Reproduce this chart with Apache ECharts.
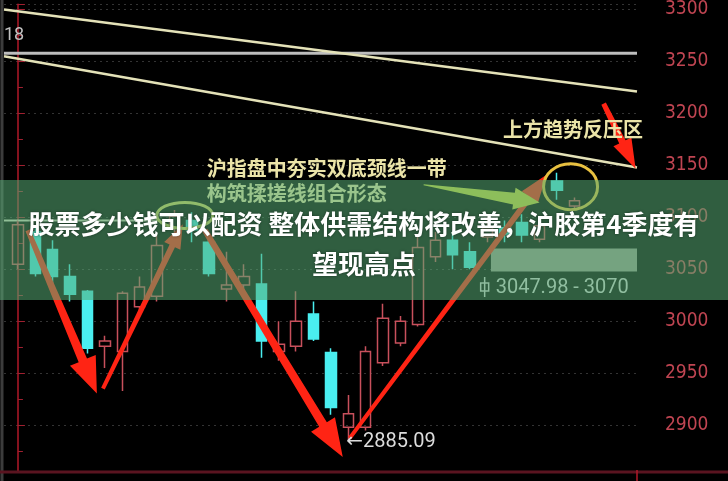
<!DOCTYPE html>
<html><head><meta charset="utf-8">
<script src="https://cdn.jsdelivr.net/npm/echarts@6/dist/echarts.min.js"></script>
<style>html,body{margin:0;padding:0;background:#000;}#c{width:728px;height:481px;}</style>
</head><body><div id="c"></div>
<script>
// ---- data ----
const candleIndex = [0,1,2,3,4,5,6,7,8,9,10,11,12,13,14,15,16,17,18,19,20,21,22,23,24,25,26,27,28,29,30,31,32];
// [open, close, low, high]
const candleOHLC = [
  [3055,3093,3050,3097],[3086,3046,3043,3092],[3069,3043,3031,3078],[3043,3026,3019,3055],
  [3029,2974,2969,3030],[2976,2981,2955,2986],[2971,3027,2933,3029],[3014,3033,3010,3043],
  [3024,3073,3019,3083],[3090,3101,3076,3107],[3097,3088,3076,3105],[3076,3046,3043,3083],
  [3031,3035,3019,3067],[3035,3043,3027,3055],[3036,2981,2965,3065],[2971,2978,2962,3000],
  [2976,3000,2971,3029],[3007,2983,2981,3019],[2970,2917,2910,2974],[2898,2911,2885.09,2929],
  [2898,2971,2895,2976],[2960,3003,2957,3017],[2979,3000,2976,3005],[2997,3071,2995,3084],
  [3062,3078,3057,3086],[3078,3064,3050,3086],[3067,3052,3050,3076],[3081,3090,3076,3100],
  [3090,3084,3076,3097],[3095,3083,3076,3103],[3079,3092,3076,3100],[3135,3126,3117,3143],
  [3111,3116,3108,3119]
];
const trendUpper = [[-0.8,3300],[35.6,3221]];
const trendLower = [[-0.8,3255],[35.6,3148]];
const levelLine  = [[-0.8,3258],[35.6,3258]];
const neckLine   = [[-0.8,3097],[8.2,3097]];
const redArrows = [
  [0.57,3087.6,4.54,2930.5],
  [4.89,2935.2,9.48,3093.3],
  [10.75,3087.6,18.68,2869.5],
  [19.08,2887.6,30.4,3140.9],
  [33.68,3209.5,35.52,3146.7]
];
const yellowArrow = [[23.33,3131.4,30.0,3114.3]];
const rings = [[9.6,3101.9],[31.78,3129.5]];
const notes = ['沪指盘中夯实双底颈线一带','构筑揉搓线组合形态','上方趋势反压区'];
const notePos = [[10.86,3146.7],[10.86,3122.9],[27.9,3184.8]];
const zoneLow = 3047.98, zoneHigh = 3070;
const zoneStart = 27.2;
const zoneMarker = [26.84, 3033];
const zoneText = '3047.98 - 3070';
const lowPoint = [19, 2885.09];
const titleText = '股票多少钱可以配资 整体供需结构将改善，沪胶第4季度有\n望现高点';

// ---- styles ----
const arrowW = {tail:[5,4,6,4,5], shaft:[9,6,9,6,7], headW:[28,18,28,20,20], headL:[36,24,38,28,30]};
const ringR = [[28,13],[27,23]];
const ringColor = ['#d8d060','#e8c040'];

function arrowPoly(p1,p2,w0,w1,hw,hl){
  const dx=p2[0]-p1[0], dy=p2[1]-p1[1], L=Math.hypot(dx,dy);
  const ux=dx/L, uy=dy/L, nx=-uy, ny=ux;
  const bx=p2[0]-ux*hl, by=p2[1]-uy*hl;
  return [[p1[0]+nx*w0/2,p1[1]+ny*w0/2],[bx+nx*w1/2,by+ny*w1/2],[bx+nx*hw/2,by+ny*hw/2],p2,
          [bx-nx*hw/2,by-ny*hw/2],[bx-nx*w1/2,by-ny*w1/2],[p1[0]-nx*w0/2,p1[1]-ny*w0/2]];
}

const chart = echarts.init(document.getElementById('c'));
const lineStyleBase = {symbol:'none', silent:true, animation:false};
chart.setOption({
  backgroundColor:'#000',
  animation:false,
  title:{text:titleText, left:'center', top:199, z:60,
    textStyle:{color:'#fff', fontSize:26, lineHeight:40, fontWeight:'bold',
      fontFamily:'"Noto Sans CJK SC", sans-serif', textShadowColor:'rgba(0,0,0,0.45)', textShadowBlur:3}},
  grid:{left:4, right:91, top:0, bottom:9},
  xAxis:{type:'value', min:-0.8, max:35.6, show:true,
    axisLine:{show:false}, axisTick:{show:false}, axisLabel:{show:false}, splitLine:{show:false}},
  yAxis:{type:'value', position:'right', min:2855, max:3305, splitNumber:9,
    axisLine:{show:true, lineStyle:{color:'#b01828', width:1.5}},
    axisTick:{show:true, length:7, lineStyle:{color:'#a02030'}},
    minorTick:{show:true, splitNumber:2, length:5, lineStyle:{color:'#a02030'}},
    axisLabel:{margin:28, color:'#c04552', fontSize:19, formatter:(v)=>String(v),
      fontFamily:'"Liberation Sans Narrow","DejaVu Sans Condensed",sans-serif',
      showMinLabel:false, showMaxLabel:false},
    splitLine:{show:true, lineStyle:{color:'#333', type:[2,4]}}},
  series:[
    Object.assign({type:'line', data:levelLine, lineStyle:{color:'#bdbdbd', width:3}, z:3}, lineStyleBase),
    Object.assign({type:'line', data:trendUpper, lineStyle:{color:'#e4e2b8', width:2.5}, z:3}, lineStyleBase),
    Object.assign({type:'line', data:trendLower, lineStyle:{color:'#e4e2b8', width:2.5}, z:3}, lineStyleBase),
    Object.assign({type:'line', data:neckLine, lineStyle:{color:'#d8d8c0', width:2}, z:3}, lineStyleBase),
    {type:'candlestick', z:4, barWidth:11, silent:true,
      data:candleIndex.map((i)=>[i].concat(candleOHLC[i])),
      itemStyle:{color:'rgba(0,0,0,0)', color0:'#4aeef0', borderColor:'#c8505c', borderColor0:'#4aeef0', borderWidth:1.5},
      markArea:{silent:true, itemStyle:{color:'#9a9a8e'},
        data:[[{coord:[zoneStart, zoneHigh]},{coord:[35.6, zoneLow]}]]}
    },
    {type:'custom', z:6, silent:true, data:redArrows,
      renderItem:(params, api)=>{
        const k=params.dataIndex;
        const p1=api.coord([api.value(0),api.value(1)]), p2=api.coord([api.value(2),api.value(3)]);
        return {type:'polygon', shape:{points:arrowPoly(p1,p2,arrowW.tail[k],arrowW.shaft[k],arrowW.headW[k],arrowW.headL[k])},
          style:{fill:'#ff2414'}};
      }},
    {type:'custom', z:6, silent:true, data:yellowArrow,
      renderItem:(params, api)=>{
        const p1=api.coord([api.value(0),api.value(1)]), p2=api.coord([api.value(2),api.value(3)]);
        return {type:'polygon', shape:{points:arrowPoly(p1,p2,1,12,22,26)}, style:{fill:'#cfd63c'}};
      }},
    {type:'custom', z:6, silent:true, data:rings,
      renderItem:(params, api)=>{
        const k=params.dataIndex;
        const p=api.coord([api.value(0),api.value(1)]);
        return {type:'ellipse', shape:{cx:p[0], cy:p[1], rx:ringR[k][0], ry:ringR[k][1]},
          style:{fill:'none', stroke:ringColor[k], lineWidth:3}};
      }},
    {type:'custom', z:7, silent:true, data:notePos,
      renderItem:(params, api)=>{
        const p=api.coord([api.value(0),api.value(1)]);
        return {type:'text', style:{text:notes[params.dataIndex], x:p[0], y:p[1], fill:'#ebe4a8',
          font:'bold 20px "Noto Sans CJK SC"', align:'left', verticalAlign:'middle'}};
      }},
    {type:'custom', z:7, silent:true, data:[zoneMarker],
      renderItem:(params, api)=>{
        const p=api.coord([api.value(0),api.value(1)]);
        return {type:'group', children:[
          {type:'line', shape:{x1:p[0], y1:p[1]-10, x2:p[0], y2:p[1]+10}, style:{stroke:'#d0d0d0', lineWidth:1.5}},
          {type:'rect', shape:{x:p[0]-4, y:p[1]-4, width:8, height:8}, style:{fill:'none', stroke:'#d0d0d0', lineWidth:1.5}},
          {type:'text', style:{text:zoneText, x:p[0]+11, y:p[1]+1, fill:'#d4d4d4', font:'20px Roboto', align:'left', verticalAlign:'middle'}}
        ]};
      }},
    {type:'custom', z:7, silent:true, data:[lowPoint],
      renderItem:(params, api)=>{
        const p=api.coord([api.value(0),api.value(1)]);
        return {type:'text', style:{text:'←' + lowPoint[1].toFixed(2), x:p[0]-2, y:p[1]+1, fill:'#dcdcdc',
          font:'20px Roboto, "DejaVu Sans"', align:'left', verticalAlign:'middle'}};
      }}
  ],
  graphic:[
    {type:'line', z:20, shape:{x1:2, y1:0, x2:2, y2:481}, style:{stroke:'#3c3c3c', lineWidth:3}},
    {type:'line', z:20, shape:{x1:0, y1:472, x2:728, y2:472}, style:{stroke:'#5a1420', lineWidth:3}},
    {type:'line', z:20, shape:{x1:637, y1:470, x2:637, y2:481}, style:{stroke:'#b01828', lineWidth:1.5}},
    {type:'text', z:20, style:{text:'18', x:4, y:35, fill:'#c0c0c0', font:'18px Roboto', verticalAlign:'middle'}},
    {type:'rect', z:50, shape:{x:0, y:180, width:728, height:120}, style:{fill:'rgba(87,172,117,0.55)'}}
  ]
});
</script></body></html>
